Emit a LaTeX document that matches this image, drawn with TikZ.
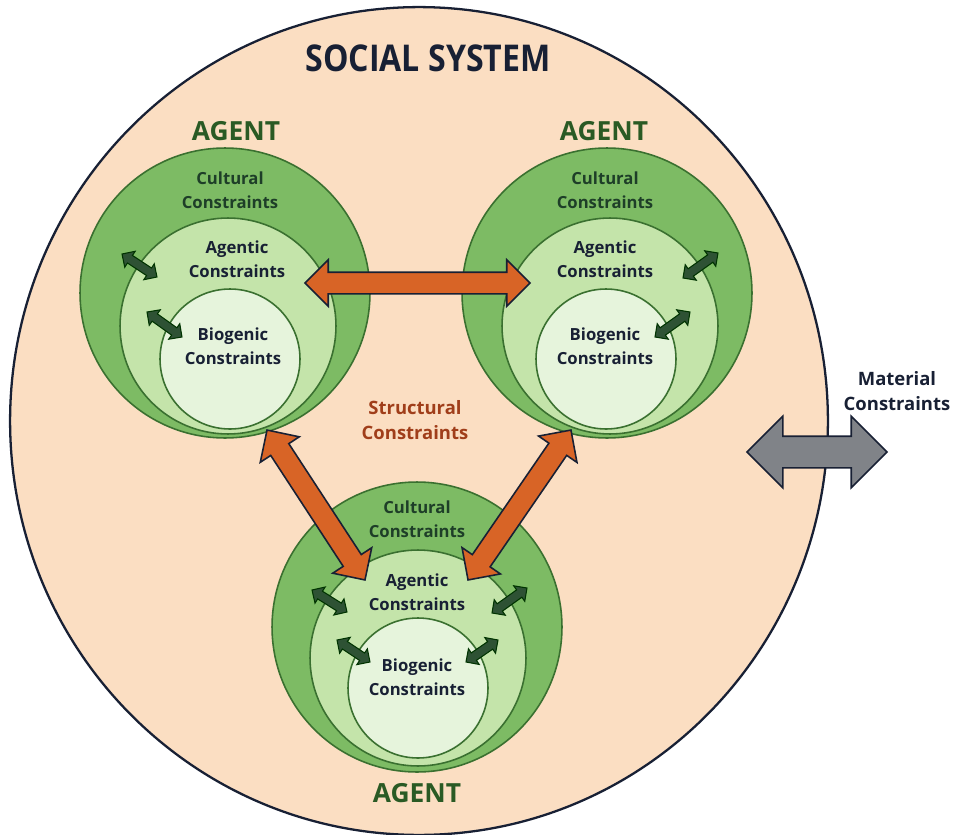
\documentclass[tikz,border=0pt]{standalone}
\usepackage{fontspec}
\setmainfont{Open Sans}
\newfontfamily\titlefont{Open Sans}[FakeStretch=0.87]
\usetikzlibrary{calc,positioning,shapes.geometric,shapes.arrows}

\definecolor{peach}{RGB}{251,222,194}
\definecolor{navy}{RGB}{24,32,52}
\definecolor{ringline}{RGB}{58,112,48}
\definecolor{culturefill}{RGB}{125,187,100}
\definecolor{agentfill}{RGB}{196,228,170}
\definecolor{biofill}{RGB}{230,244,220}
\definecolor{agentgreen}{RGB}{42,90,36}
\definecolor{cultext}{RGB}{30,62,40}
\definecolor{structfill}{RGB}{216,100,38}
\definecolor{structtext}{RGB}{160,62,26}
\definecolor{smallfill}{RGB}{46,82,52}
\definecolor{matfill}{RGB}{128,131,136}

\tikzset{
  cultural/.style={circle, draw=ringline, line width=0.9pt, fill=culturefill, minimum size=5.8cm, inner sep=0pt},
  agentic/.style={circle, draw=ringline, line width=0.9pt, fill=agentfill, minimum size=4.32cm, inner sep=0pt},
  biogenic/.style={circle, draw=ringline, line width=0.9pt, fill=biofill, minimum size=2.8cm, inner sep=0pt},
  ringtext/.style={align=center, font=\bfseries\fontsize{9.5}{13.5}\selectfont, text=navy},
  agentname/.style={font=\bfseries\fontsize{15}{18}\selectfont, text=agentgreen},
  sidetext/.style={align=center, font=\bfseries\fontsize{10.5}{14.5}\selectfont},
  structarrow/.style={double arrow, draw=navy, line width=0.9pt, fill=structfill, inner xsep=0pt,
    inner ysep=0.2cm, double arrow head extend=0.25cm, double arrow tip angle=90},
  smallarrow/.style={double arrow, draw=black!80!green, line width=0.6pt, fill=smallfill, inner xsep=0pt,
    inner ysep=0.08cm, double arrow head extend=0.1cm, double arrow tip angle=90},
  matarrow/.style={double arrow, draw=navy, line width=0.9pt, fill=matfill, inner xsep=0pt,
    inner ysep=0.3cm, double arrow head extend=0.4cm, double arrow tip angle=90}
}

% fat double arrow laid between two points: style, from, to
\newcommand\fatarrow[3]{%
  \path let \p1=($(#3)-(#2)$), \n1={veclen(\x1,\y1)}, \n2={atan2(\y1,\x1)} in
    node[#1, minimum height=\n1, rotate=\n2] at ($(#2)!0.5!(#3)$) {};}

\begin{document}
\begin{tikzpicture}[x=0.02cm, y=-0.02cm]
\useasboundingbox (0,0) rectangle (957,835);

% the social system
\node (sys) [ellipse, draw=navy, line width=1.3pt, fill=peach, minimum width=16.36cm, minimum height=16.56cm, inner sep=0pt] at (419,421) {};
\node (title) [font=\titlefont\bfseries\fontsize{21}{24}\selectfont, text=navy] at (428,58) {SOCIAL SYSTEM};

% three agents
\node (lcult) [cultural] at (225,293) {};
\node (lagen) [agentic] at (228,326) {};
\node (lbio) [biogenic] at (230,359) {};

\node (rcult) [cultural] at (607,293) {};
\node (ragen) [agentic] at (610,326) {};
\node (rbio) [biogenic] at (606,359) {};

\node (bcult) [cultural] at (417,627) {};
\node (bagen) [agentic] at (418,658) {};
\node (bbio) [biogenic] at (418,688) {};

% ring labels
\node (lctxt) [ringtext, text=cultext] at (230,190) {Cultural\\Constraints};
\node (latxt) [ringtext] at (237,259) {Agentic\\Constraints};
\node (lbtxt) [ringtext] at (233,346) {Biogenic\\Constraints};
\node (rctxt) [ringtext, text=cultext] at (605,190) {Cultural\\Constraints};
\node (ratxt) [ringtext] at (605,259) {Agentic\\Constraints};
\node (rbtxt) [ringtext] at (605,346) {Biogenic\\Constraints};
\node (bctxt) [ringtext, text=cultext] at (417,519) {Cultural\\Constraints};
\node (batxt) [ringtext] at (417,592) {Agentic\\Constraints};
\node (bbtxt) [ringtext] at (417,677) {Biogenic\\Constraints};

\node (lname) [agentname] at (236,131) {AGENT};
\node (rname) [agentname] at (604,131) {AGENT};
\node (bname) [agentname] at (417,793) {AGENT};

% arrow ends
\coordinate (h1) at (305,283);  \coordinate (h2) at (530,283);
\coordinate (l1) at (267,430);  \coordinate (l2) at (365,580);
\coordinate (r1) at (571,430);  \coordinate (r2) at (468,580);
\coordinate (m1) at (747,452);  \coordinate (m2) at (887,452);

% structural constraints between agents
\fatarrow{structarrow}{h1}{h2}
\fatarrow{structarrow}{l1}{l2}
\fatarrow{structarrow}{r1}{r2}
\node (struct) [sidetext, text=structtext] at (415,420) {Structural\\Constraints};

% links between the rings
\coordinate (la1) at (122,254); \coordinate (la2) at (157,277);
\coordinate (lb1) at (147,312); \coordinate (lb2) at (182,337);
\coordinate (ra1) at (718,253); \coordinate (ra2) at (683,278);
\coordinate (rb1) at (690,312); \coordinate (rb2) at (655,337);
\coordinate (ba1) at (312,590); \coordinate (ba2) at (347,612);
\coordinate (bb1) at (337,640); \coordinate (bb2) at (370,662);
\coordinate (bc1) at (527,588); \coordinate (bc2) at (492,613);
\coordinate (bd1) at (498,640); \coordinate (bd2) at (466,662);
\foreach \a/\b in {la1/la2, lb1/lb2, ra1/ra2, rb1/rb2, ba1/ba2, bb1/bb2, bc1/bc2, bd1/bd2}
  {\fatarrow{smallarrow}{\a}{\b}}

% material constraints
\fatarrow{matarrow}{m1}{m2}
\node (mat) [sidetext, text=navy] at (897,391) {Material\\Constraints};
\end{tikzpicture}
\end{document}
